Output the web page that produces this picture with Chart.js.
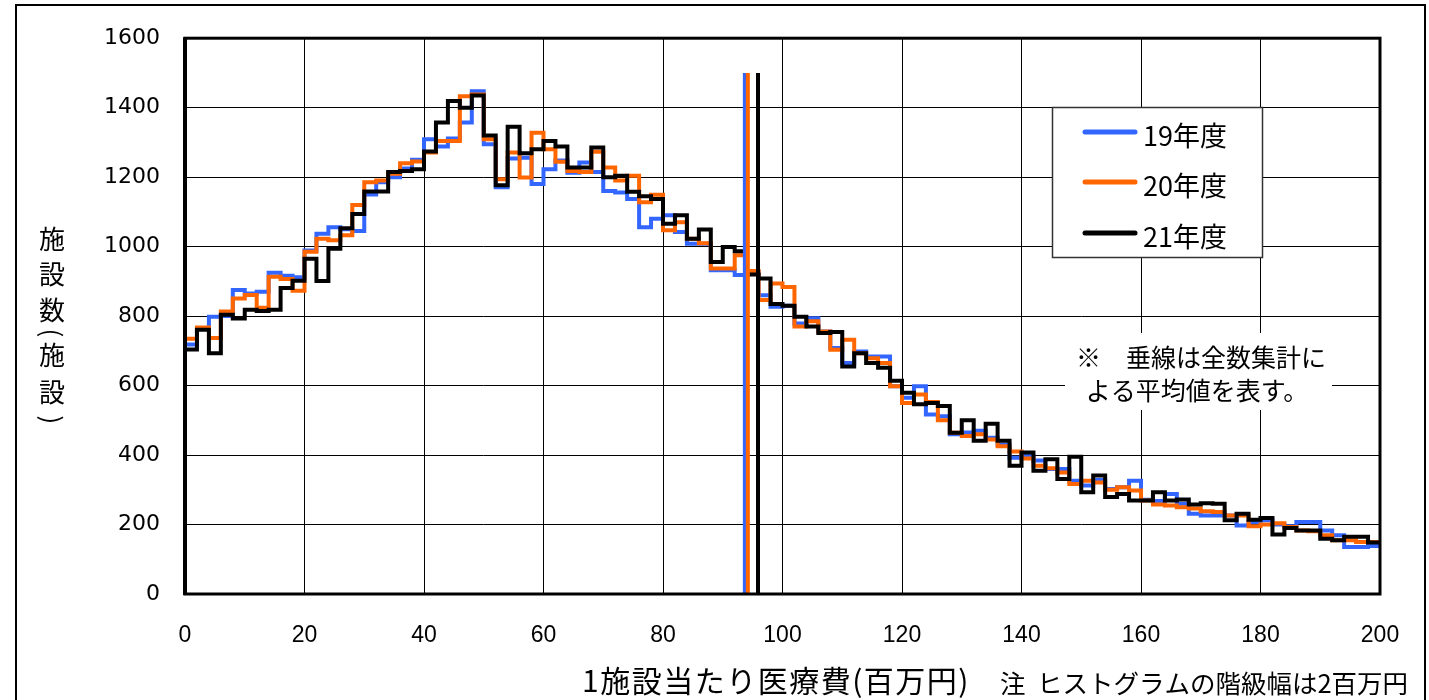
<!DOCTYPE html>
<html><head><meta charset="utf-8">
<script src="https://cdn.jsdelivr.net/npm/chart.js@4.4.1/dist/chart.umd.min.js"></script>
<style>html,body{margin:0;padding:0;background:#fff;}canvas{display:block;}</style>
</head><body>
<canvas id="c" width="1429" height="700"></canvas>
<script>
// ---- data ----
const binStarts = [0,2,4,6,8,10,12,14,16,18,20,22,24,26,28,30,32,34,36,38,40,42,44,46,48,50,52,54,56,58,60,62,64,66,68,70,72,74,76,78,80,82,84,86,88,90,92,94,96,98,100,102,104,106,108,110,112,114,116,118,120,122,124,126,128,130,132,134,136,138,140,142,144,146,148,150,152,154,156,158,160,162,164,166,168,170,172,174,176,178,180,182,184,186,188,190,192,194,196,198];
const binEnd = 200;
const seriesLabels = ['19年度','20年度','21年度'];
const fy19 = [718,763,798,800,875,865,870,925,916,912,989,1037,1056,1050,1045,1150,1185,1200,1225,1250,1309,1288,1311,1357,1447,1295,1171,1254,1256,1180,1223,1248,1213,1242,1215,1160,1156,1137,1056,1080,1090,1042,1008,1008,932,932,918,927,860,827,830,779,794,756,708,665,698,684,684,598,565,598,517,512,460,465,470,450,430,392,398,384,360,360,326,312,328,302,307,326,271,268,288,260,231,226,226,226,197,207,212,200,195,207,207,183,169,135,135,138];
const fy20 = [735,767,737,813,851,861,824,913,907,873,985,1023,1018,1033,1120,1185,1190,1210,1240,1245,1271,1304,1304,1433,1438,1309,1194,1271,1199,1328,1280,1244,1218,1215,1273,1228,1190,1204,1128,1149,1047,1070,1023,1010,937,937,975,930,846,894,884,770,785,756,703,732,693,679,665,598,550,574,553,500,464,455,460,445,425,410,390,369,362,350,317,326,321,300,307,298,269,258,255,250,246,238,236,226,226,195,200,204,193,183,181,169,155,155,150,150];
const fy21 = [704,761,693,804,793,818,815,818,881,902,965,901,994,1053,1094,1159,1159,1215,1218,1223,1274,1357,1419,1400,1435,1320,1177,1345,1269,1280,1304,1288,1228,1228,1285,1200,1204,1158,1145,1137,1066,1090,1023,1049,956,999,987,920,908,835,830,798,770,751,754,655,693,665,651,614,579,546,550,541,464,500,441,490,441,369,407,355,388,331,395,293,341,279,288,269,269,293,269,272,258,261,260,212,231,214,219,171,190,183,183,159,155,165,165,148];
const meanValues = [93.7, 94.2, 95.9];   // 全数集計による平均値
const meanLineTop = 1500;
const xTicks = [0,20,40,60,80,100,120,140,160,180,200];
const yTicks = [0,200,400,600,800,1000,1200,1400,1600];
const colors = ['#3366FF','#FF6600','#000000'];

const xTitle = '1施設当たり医療費(百万円)';
const xNote = '注  ヒストグラムの階級幅は2百万円';
const yTitleChars = ['施','設','数','(','施','設',')'];
const noteLines = ['※　垂線は全数集計に','よる平均値を表す。'];

function steps(vals){
  const pts = binStarts.map((x,i)=>({x:x, y:vals[i]}));
  pts.push({x:binEnd, y:vals[vals.length-1]});
  return pts;
}
const seriesData = [fy19, fy20, fy21];
const datasets = [];
seriesData.forEach((vals,i)=>{
  datasets.push({label:seriesLabels[i], data:steps(vals), borderColor:colors[i], backgroundColor:colors[i],
    borderWidth:4, pointRadius:0, stepped:'before', fill:false, order:6-i, borderJoinStyle:'miter'});
});
meanValues.forEach((m,i)=>{
  datasets.push({label:seriesLabels[i]+'平均', data:[{x:m,y:0},{x:m,y:meanLineTop}], borderColor:colors[i],
    borderWidth:4, pointRadius:0, fill:false, order:3-i, borderCapStyle:'butt'});
});

const CJK = '"Noto Sans CJK JP", "Noto Sans", sans-serif';

const decor = {
  id:'decor',
  beforeDatasetsDraw(chart){
    const c = chart.ctx;
    c.save();
    c.fillStyle='#fff';
    c.fillRect(1065,333,267,77);
    c.restore();
  },
  afterDraw(chart){
    const c = chart.ctx, a = chart.chartArea;
    c.save();
    // plot frame
    c.strokeStyle='#000';
    c.lineWidth=3;
    c.strokeRect(a.left, a.top, a.right-a.left, a.bottom-a.top);
    c.lineWidth=4;
    c.beginPath(); c.moveTo(a.left, a.top-1); c.lineTo(a.left, a.bottom+1); c.stroke();
    // outer frame
    c.lineWidth=2;
    c.strokeRect(16,5,1409,720);
    // legend
    c.fillStyle='#fff';
    c.fillRect(1052,107,210,150);
    c.lineWidth=1.5; c.strokeStyle='#333';
    c.strokeRect(1052.5,107.5,210,150);
    const ly=[132,182,233];
    seriesLabels.forEach((lab,i)=>{
      c.strokeStyle=colors[i]; c.lineWidth=5; c.lineCap='round';
      c.beginPath(); c.moveTo(1085,ly[i]); c.lineTo(1135,ly[i]); c.stroke();
      c.fillStyle='#000'; c.font='27px '+CJK; c.textBaseline='middle'; c.textAlign='left';
      c.fillText(lab,1143,ly[i]+4);
    });
    c.lineCap='butt';
    // note text
    c.fillStyle='#000'; c.font='25px '+CJK; c.textAlign='center'; c.textBaseline='middle';
    c.fillText(noteLines[0],1201,357);
    c.fillText(noteLines[1],1197,390);
    // x title + note
    c.textAlign='left'; c.textBaseline='middle';
    c.font='30px '+CJK;
    try { c.letterSpacing='1.5px'; } catch(e){}
    c.fillText(xTitle,582,681);
    try { c.letterSpacing='0px'; } catch(e){}
    c.font='25.5px '+CJK;
    c.fillText(xNote,1000,683);
    // y title (vertical)
    c.font='26px '+CJK; c.textAlign='center';
    const yy=[239,274,310,333,355,392,420];
    yTitleChars.forEach((ch,i)=>{
      if (ch==='(' || ch===')'){
        c.save(); c.translate(52,yy[i]); c.rotate(Math.PI/2);
        c.fillText(ch, 0, 0);
        c.restore();
      } else c.fillText(ch,52,yy[i]);
    });
    c.restore();
  }
};

new Chart(document.getElementById('c'),{
  type:'line',
  data:{datasets:datasets},
  options:{
    responsive:false, animation:false, events:[],
    layout:{padding:{left:0,top:35,right:49,bottom:0}},
    plugins:{legend:{display:false}, tooltip:{enabled:false}},
    scales:{
      x:{type:'linear', min:0, max:200,
        afterBuildTicks(s){ s.ticks = xTicks.map(v=>({value:v})); },
        afterFit(s){ s.height = 106; },
        grid:{color:'#000', lineWidth:1, drawTicks:false},
        border:{display:false},
        ticks:{padding:28, color:'#000', font:{family:'"Liberation Sans", Arial, sans-serif', size:23}, maxRotation:0,
          callback:(v)=>String(v)}
      },
      y:{min:0, max:1600,
        afterBuildTicks(s){ s.ticks = yTicks.map(v=>({value:v})); },
        afterFit(s){ s.width = 185; },
        grid:{color:'#000', lineWidth:1, drawTicks:false},
        border:{display:false},
        ticks:{padding:25, color:'#000', font:{family:'"DejaVu Sans", sans-serif', size:22},
          callback:(v)=>String(v)}
      }
    }
  },
  plugins:[decor]
});
</script>
</body></html>
